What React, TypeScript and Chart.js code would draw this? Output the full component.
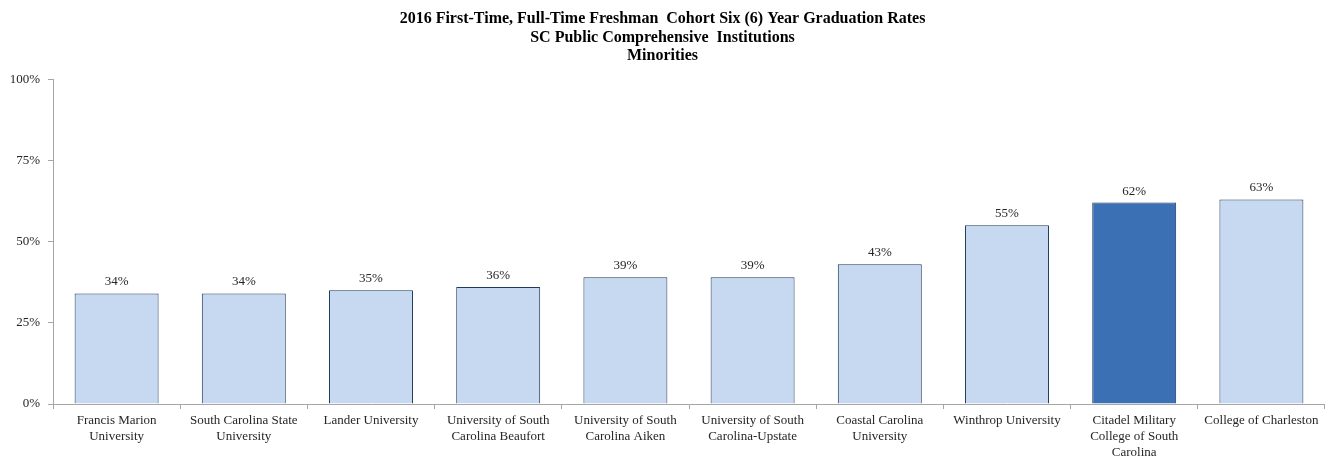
import { useEffect, useRef } from "react";
import { Chart, ChartConfiguration, Plugin, registerables } from "chart.js";

Chart.register(...registerables);

const SERIF = "'Liberation Serif', 'DejaVu Serif', serif";

const titleLines = [
  "2016 First-Time, Full-Time Freshman  Cohort Six (6) Year Graduation Rates",
  "SC Public Comprehensive  Institutions",
  "Minorities",
];

const institutions = [
  ["Francis Marion", "University"],
  ["South Carolina State", "University"],
  ["Lander University"],
  ["University of South", "Carolina Beaufort"],
  ["University of South", "Carolina Aiken"],
  ["University of South", "Carolina-Upstate"],
  ["Coastal Carolina", "University"],
  ["Winthrop University"],
  ["Citadel Military", "College of South", "Carolina"],
  ["College of Charleston"],
];

const gradRates = [34, 34, 35, 36, 39, 39, 43, 55, 62, 63];

const highlighted = [false, false, false, false, false, false, false, false, true, false];

const yTicks = [0, 25, 50, 75, 100];

const LIGHT_FILL = "#c6d9f1";
const DARK_FILL = "#3b70b4";
const BAR_EDGE = "#1f3a5c";
const AXIS_GREY = "#a6a6a6";
const TEXT = "#262626";

// value labels above each bar
const valueLabels: Plugin<"bar"> = {
  id: "valueLabels",
  afterDatasetsDraw(chart) {
    const { ctx } = chart;
    const meta = chart.getDatasetMeta(0);
    ctx.save();
    ctx.font = `13px ${SERIF}`;
    ctx.fillStyle = TEXT;
    ctx.textAlign = "center";
    ctx.textBaseline = "bottom";
    meta.data.forEach((bar, i) => {
      ctx.fillText(`${gradRates[i]}%`, bar.x, bar.y - 5);
    });
    ctx.restore();
  },
};

const GraduationChart = () => {
  const canvasRef = useRef<HTMLCanvasElement | null>(null);
  const chartRef = useRef<Chart<"bar"> | null>(null);

  useEffect(() => {
    document.body.style.margin = "0";
    if (!canvasRef.current) return;

    const config: ChartConfiguration<"bar"> = {
      type: "bar",
      data: {
        labels: institutions,
        datasets: [
          {
            data: gradRates,
            backgroundColor: highlighted.map((h) => (h ? DARK_FILL : LIGHT_FILL)),
            borderColor: BAR_EDGE,
            borderWidth: 1,
            categoryPercentage: 1,
            barPercentage: 0.66,
          },
        ],
      },
      options: {
        responsive: true,
        maintainAspectRatio: false,
        animation: false,
        layout: { padding: 0 },
        plugins: {
          legend: { display: false },
          tooltip: { enabled: false },
          title: {
            display: true,
            text: titleLines,
            color: "#000",
            font: { family: SERIF, size: 16, weight: "bold", lineHeight: 1.15 },
            padding: { top: 10, bottom: 14 },
          },
        },
        scales: {
          x: {
            grid: {
              offset: true,
              drawOnChartArea: false,
              tickLength: 5,
              tickColor: AXIS_GREY,
            },
            border: { color: AXIS_GREY },
            ticks: {
              color: TEXT,
              font: { family: SERIF, size: 13, lineHeight: 1.25 },
              padding: 3,
              maxRotation: 0,
              autoSkip: false,
            },
            afterFit: (scale) => {
              scale.height = 56;
            },
          },
          y: {
            min: 0,
            max: 100,
            afterBuildTicks: (scale) => {
              scale.ticks = yTicks.map((v) => ({ value: v }));
            },
            grid: {
              drawOnChartArea: false,
              tickLength: 5,
              tickColor: AXIS_GREY,
            },
            border: { color: AXIS_GREY },
            ticks: {
              color: TEXT,
              font: { family: SERIF, size: 13 },
              padding: 8,
              callback: (v) => `${v}%`,
            },
            afterFit: (scale) => {
              scale.width = 53;
            },
          },
        },
      },
      plugins: [valueLabels],
    };

    chartRef.current = new Chart(canvasRef.current, config);

    return () => {
      chartRef.current?.destroy();
    };
  }, []);

  return (
    <div style={{ width: 1325, height: 460, position: "relative" }}>
      <canvas ref={canvasRef} />
    </div>
  );
};

export default function App() {
  return <GraduationChart />;
}
